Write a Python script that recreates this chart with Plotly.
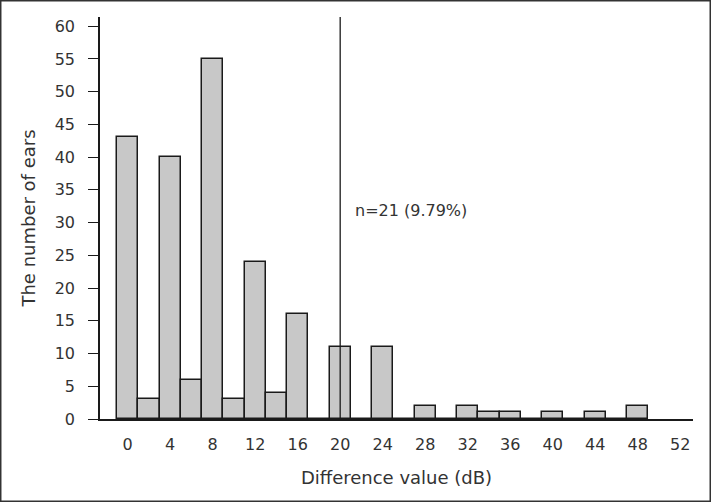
import plotly.graph_objects as go

# difference value bins (dB) and number of ears
diff_db = [0, 2, 4, 6, 8, 10, 12, 14, 16, 18, 20, 22, 24, 26, 28, 30, 32, 34, 36, 38, 40, 42, 44, 46, 48]
n_ears = [43, 3, 40, 6, 55, 3, 24, 4, 16, 0, 11, 0, 11, 0, 2, 0, 2, 1, 1, 0, 1, 0, 1, 0, 2]
x_ticks = [0, 4, 8, 12, 16, 20, 24, 28, 32, 36, 40, 44, 48, 52]
y_ticks = [0, 5, 10, 15, 20, 25, 30, 35, 40, 45, 50, 55, 60]
cutoff = 20
note = "n=21 (9.79%)"

fnt = "DejaVu Sans"
txt = "#333333"

fig = go.Figure()
fig.add_trace(go.Bar(x=diff_db, y=n_ears, width=2,
                     marker=dict(color="#c8c8c8", line=dict(color="#1a1a1a", width=1.5))))

fig.add_vline(x=cutoff, line=dict(color="#1a1a1a", width=1.3))
fig.add_annotation(x=21.2, y=31.9, text=note, showarrow=False, xanchor="left",
                   font=dict(family=fnt, size=16, color=txt))

# frame around the whole picture
fig.add_shape(type="rect", xref="paper", yref="paper", x0=-0.1674, x1=1.0291,
              y0=-0.2046, y1=1.0404, line=dict(color="#333333", width=1.5))

fig.update_xaxes(range=[-2.6, 53.2], tickvals=x_ticks, ticks="", showgrid=False, zeroline=False,
                 showline=True, linecolor="#1a1a1a", linewidth=1.5, ticklabelstandoff=10,
                 title=dict(text="Difference value (dB)", standoff=18,
                            font=dict(family=fnt, size=18, color=txt)),
                 tickfont=dict(family=fnt, size=16, color=txt))
fig.update_yaxes(range=[0, 61.4], tickvals=y_ticks, ticks="outside", ticklen=10, tickcolor="#1a1a1a",
                 tickwidth=1.3, showgrid=False, zeroline=False,
                 showline=True, linecolor="#1a1a1a", linewidth=1.5, ticklabelstandoff=10,
                 title=dict(text="The number of ears", standoff=14,
                            font=dict(family=fnt, size=18, color=txt)),
                 tickfont=dict(family=fnt, size=16, color=txt))

fig.update_layout(width=711, height=502, plot_bgcolor="white", paper_bgcolor="white",
                  showlegend=False, bargap=0, margin=dict(l=100, r=18, t=17, b=83))

fig.write_html("out.html", config={"displayModeBar": False},
               post_script="document.body.style.margin='0px';")
